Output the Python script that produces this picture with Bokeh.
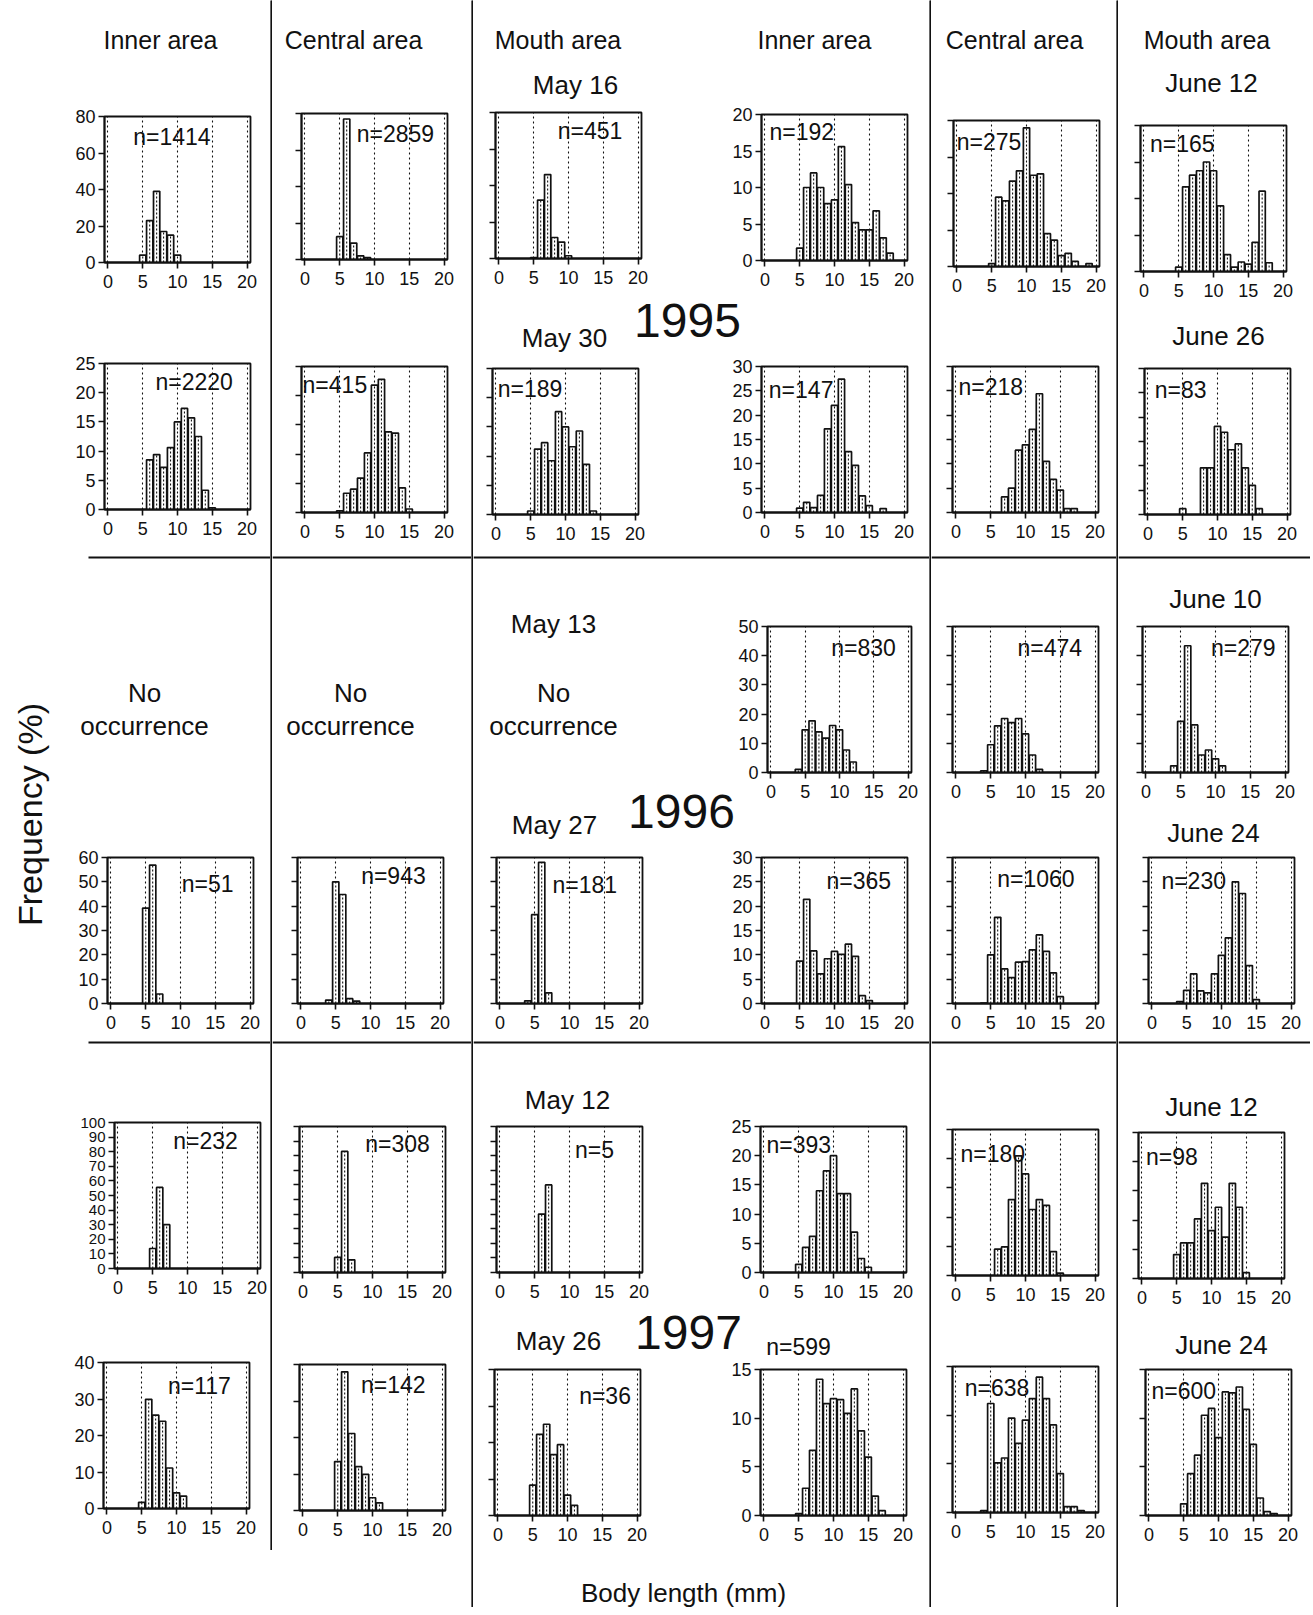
import math
from bokeh.plotting import figure
from bokeh.layouts import row, column
from bokeh.models import Range1d, Label
from bokeh.core.properties import value
from bokeh.embed import file_html
from bokeh.resources import INLINE

FONT = "Liberation Sans"
INK = "#111111"

# ---------------- data: frequency (%) per 1-mm body-length class ----------------
# each series starts at the class given by its *_start value (mm)
# 1995
f95_may16_inner_start, f95_may16_inner = 5, [4, 23, 39, 17, 15, 4]
f95_may16_central_start, f95_may16_central = 5, [12.5, 77, 9, 2, 1]
f95_may16_mouth_start, f95_may16_mouth = 5, [0.5, 32, 46, 11.5, 9, 1.5]
f95_jun12_inner_start, f95_jun12_inner = 5, [1.7, 10, 12, 10, 7.8, 8.3, 15.6, 10.4, 5.2, 4.2, 4.2, 6.8, 3.1, 1]
f95_jun12_central_start, f95_jun12_central = 5, [0.4, 9.5, 9, 11.7, 13.1, 19, 12.5, 12.7, 4.5, 3.6, 1.5, 1.8, 0.7, 0, 0.4]
f95_jun12_mouth_start, f95_jun12_mouth = 5, [0.6, 11.6, 13.2, 13.8, 15, 13.8, 9, 2.3, 0.6, 1.3, 1, 4, 11, 1.2]
f95_may30_inner_start, f95_may30_inner = 6, [8.5, 9.4, 7.2, 10.6, 15, 17.3, 15.7, 12.5, 3.3, 0.3]
f95_may30_central_start, f95_may30_central = 5, [0.3, 3.3, 4, 5.9, 10.2, 21.8, 22.8, 13.8, 13.6, 4.2, 0.6]
f95_may30_mouth_start, f95_may30_mouth = 5, [0.6, 11.2, 12.3, 9.2, 17.6, 15, 11.6, 14.3, 8.6, 0.6]
f95_jun26_inner_start, f95_jun26_inner = 5, [0.9, 2.1, 1, 3.5, 17.2, 22, 27.4, 12.5, 9.7, 3.4, 1.4, 0, 0.8]
f95_jun26_central_start, f95_jun26_central = 7, [3.2, 5, 12.8, 13.9, 17.1, 24.4, 10.5, 6.8, 4.6, 0.8, 0.8]
f95_jun26_mouth_start, f95_jun26_mouth = 5, [1.2, 0, 0, 9.6, 9.6, 18.1, 16.9, 13.3, 14.5, 9.6, 6.0, 1.2]
# 1996
f96_jun10_inner_start, f96_jun10_inner = 4, [1.1, 14.6, 17.7, 13.9, 11.8, 16.1, 14.6, 7.7, 3.6]
f96_jun10_central_start, f96_jun10_central = 4, [0.6, 9.5, 16, 18.5, 17.1, 18.5, 13.2, 6, 1.1]
f96_jun10_mouth_start, f96_jun10_mouth = 4, [2.3, 17.5, 43.4, 16.3, 6, 7.7, 4.7, 2.3]
f96_may27_inner_start, f96_may27_inner = 5, [39.2, 56.9, 3.9]
f96_may27_central_start, f96_may27_central = 4, [1.4, 50, 44.8, 2, 1]
f96_may27_mouth_start, f96_may27_mouth = 4, [1.1, 36.5, 58, 4.4]
f96_jun24_inner_start, f96_jun24_inner = 5, [8.7, 21.4, 10.8, 6.1, 9.2, 10.7, 10.1, 12.2, 9.7, 1.6, 0.6]
f96_jun24_central_start, f96_jun24_central = 4, [0.1, 10, 17.7, 7.1, 5.3, 8.5, 8.6, 11, 14.1, 10.7, 6.3, 1.4]
f96_jun24_mouth_start, f96_jun24_mouth = 4, [0.4, 2.7, 6.1, 2.6, 2.2, 6.1, 9.9, 13.5, 25, 22.6, 7.8, 0.8]
# 1997
f97_may12_inner_start, f97_may12_inner = 5, [13.7, 55.5, 30]
f97_may12_central_start, f97_may12_central = 5, [10.3, 82.9, 8.7]
f97_may12_mouth_start, f97_may12_mouth = 6, [40, 60]
f97_jun12_inner_start, f97_jun12_inner = 5, [1.4, 4.3, 6.2, 14, 17.4, 20, 13.5, 13.5, 6.9, 2.4, 0.9]
f97_jun12_central_start, f97_jun12_central = 6, [4.5, 4.9, 13, 20.5, 17.4, 11.3, 13, 12, 4.1, 0.4]
f97_jun12_mouth_start, f97_jun12_mouth = 5, [4.1, 6.1, 6.1, 10.2, 16.3, 8.2, 12.2, 7.1, 16.3, 12.2, 1.0]
f97_may26_inner_start, f97_may26_inner = 5, [1.7, 29.9, 25.6, 23.9, 11.1, 4.3, 3.4]
f97_may26_central_start, f97_may26_central = 5, [13.4, 38, 21.1, 12, 9.9, 3.5, 2.1]
f97_may26_mouth_start, f97_may26_mouth = 5, [8.3, 22.2, 25, 16.7, 19.4, 5.6, 2.8]
f97_jun24_inner_start, f97_jun24_inner = 5, [0.2, 2.8, 6.7, 14, 11.5, 12, 11.9, 10.5, 13, 8.7, 6, 2, 0.5]
f97_jun24_central_start, f97_jun24_central = 4, [0.2, 11.2, 5.1, 5.6, 9.7, 7.1, 9.5, 11.7, 13.9, 11.7, 9, 4, 0.6, 0.6, 0.2]
f97_jun24_mouth_start, f97_jun24_mouth = 5, [1.2, 4.3, 6.2, 10.3, 11, 8, 12.7, 12.6, 13.2, 10.9, 7.3, 1.8, 0.4, 0.2]

# sample sizes (inner, central, mouth)
n95_may = [1414, 2859, 451]
n95_jun = [192, 275, 165]
n95_may2 = [2220, 415, 189]
n95_jun2 = [147, 218, 83]
n96_jun = [830, 474, 279]
n96_may2 = [51, 943, 181]
n96_jun2 = [365, 1060, 230]
n97_may = [232, 308, 5]
n97_jun = [393, 180, 98]
n97_may2 = [117, 142, 36]
n97_jun2 = [599, 638, 600]

x_ticks = [0, 5, 10, 15, 20]
area_labels = ["Inner area", "Central   area", "Mouth  area"]
years = ["1995", "1996", "1997"]

FW, FH = 146, 146
HEAD, DATE, NLAB, TICK, YEAR, NOOC = 25, 26, 23, 18, 48, 26


def canvas(w, h):
    p = figure(width=w, height=h, title=None, x_range=Range1d(0, w), y_range=Range1d(h, 0),
               toolbar_location=None, tools="", output_backend="svg", min_border=0,
               x_axis_location=None, y_axis_location=None, outline_line_color=None,
               frame_align=False)
    p.xgrid.visible = False
    p.ygrid.visible = False
    return p


def put(p, x, y, s, size, angle=0.0):
    p.text(x=[x], y=[y], text=[s], text_font=value(FONT), text_font_size=value(f"{size}px"),
           text_align="center", text_baseline="middle", angle=angle, text_color=INK)


def txt(w, h, items):
    p = canvas(w, h)
    for (x, y, s, size) in items:
        put(p, x, y, s, size)
    return p


def hl(w, h, y, x0=0):
    p = canvas(w, h)
    p.segment(x0=[x0], y0=[y], x1=[w], y1=[y], line_color=INK, line_width=2)
    return p


def vline(h):
    p = canvas(2, h)
    p.background_fill_color = INK
    p.border_fill_color = INK
    p.quad(left=[0], right=[2], top=[0], bottom=[h], fill_color=INK, line_color=None)
    return p


def panel(start, vals, ymax, ystep, ylabels, n, nx, ny, w, h, left, top, ylab_size=TICK):
    right = w - left - FW
    bottom = h - top - FH
    p = figure(width=w, height=h, title=None, x_range=Range1d(-0.5, 20.5), y_range=Range1d(0, ymax),
               toolbar_location=None, tools="", output_backend="svg", frame_align=False,
               min_border_left=left, min_border_right=right, min_border_top=top, min_border_bottom=bottom)
    xs = [start + i for i, v in enumerate(vals) if v > 0]
    ys = [v for v in vals if v > 0]
    p.vbar(x=xs, top=ys, bottom=0, width=0.9, fill_color="white", line_color=INK, line_width=1.7)
    p.segment(x0=xs, y0=[0] * len(xs), x1=xs, y1=ys, line_color=INK, line_width=1.1, line_dash="2 2")
    yt = list(range(0, ymax + 1, ystep))
    p.xaxis.ticker = x_ticks
    p.yaxis.ticker = yt
    for ax in (p.xaxis[0], p.yaxis[0]):
        ax.axis_line_color = INK
        ax.axis_line_width = 1.8
        ax.major_tick_line_color = INK
        ax.major_tick_line_width = 1.6
        ax.major_tick_out = 6
        ax.major_tick_in = 0
        ax.minor_tick_line_color = None
        ax.major_label_text_font = FONT
        ax.major_label_text_color = INK
    p.xaxis.major_label_text_font_size = f"{TICK}px"
    p.yaxis.major_label_text_font_size = f"{ylab_size}px"
    p.xaxis.major_label_standoff = 6
    p.yaxis.major_label_standoff = 3
    if not ylabels:
        p.yaxis.major_label_overrides = {t: "" for t in yt}
    p.xgrid.grid_line_color = INK
    p.xgrid.grid_line_dash = "2 3"
    p.xgrid.grid_line_width = 1.1
    p.ygrid.visible = False
    p.outline_line_color = INK
    p.outline_line_width = 1.8
    if n is not None:
        p.add_layout(Label(x=nx, y=ny, text=f"n={n}", text_font=FONT, text_font_size=f"{NLAB}px",
                           text_align="center", text_baseline="middle", text_color=INK))
    return p


# ---------------- left label ----------------
left_c = canvas(60, 1607)
put(left_c, 29, 814, "Frequency (%)", 34, angle=math.pi / 2)

# ---------------- column 1 : Inner area (May) ----------------
c1 = column(
    txt(210, 100, [(100, 39, area_labels[0], HEAD)]),
    panel(f95_may16_inner_start, f95_may16_inner, 80, 20, True, n95_may[0], 9.2, 68.8, 210, 250, 44, 16),
    panel(f95_may30_inner_start, f95_may30_inner, 25, 5, True, n95_may2[0], 12.4, 21.8, 210, 198, 44, 13),
    hl(210, 18, 9, x0=28),
    txt(210, 264, [(84, 126, "No", NOOC), (84, 159, "occurrence", NOOC)]),
    panel(f96_may27_inner_start, f96_may27_inner, 60, 10, True, n96_may2[0], 13.9, 49.2, 210, 206, 47, 27),
    hl(210, 12, 6, x0=28),
    panel(f97_may12_inner_start, f97_may12_inner, 100, 10, True, n97_may[0], 12.6, 87.3, 210, 257, 54, 74, ylab_size=15),
    panel(f97_may26_inner_start, f97_may26_inner, 40, 10, True, n97_may2[0], 13.3, 33.6, 210, 245, 43, 57),
    canvas(210, 57),
)

# ---------------- column 2 : Central area (May) ----------------
c2 = column(
    txt(199, 100, [(88, 39, area_labels[1], HEAD)]),
    panel(f95_may16_central_start, f95_may16_central, 80, 20, False, n95_may[1], 13, 68.5, 199, 250, 29, 13),
    panel(f95_may30_central_start, f95_may30_central, 25, 5, False, n95_may2[1], 4.3, 21.8, 199, 198, 29, 16),
    hl(199, 18, 9),
    txt(199, 264, [(78, 126, "No", NOOC), (78, 159, "occurrence", NOOC)]),
    panel(f96_may27_central_start, f96_may27_central, 60, 10, False, n96_may2[1], 13.3, 52.2, 199, 206, 25, 27),
    hl(199, 12, 6),
    panel(f97_may12_central_start, f97_may12_central, 100, 10, False, n97_may[1], 13.6, 88, 199, 257, 27, 78),
    panel(f97_may26_central_start, f97_may26_central, 40, 10, False, n97_may2[1], 13, 34.4, 199, 245, 27, 59),
    canvas(199, 57),
)

# ---------------- columns 3+4 : Mouth area (May) and Inner area (June) ----------------
c34 = column(
    txt(456, 99, [(88, 39, area_labels[2], HEAD), (341, 39, area_labels[0], HEAD), (102, 84, "May 16", DATE)]),
    row(panel(f95_may16_mouth_start, f95_may16_mouth, 80, 20, False, n95_may[2], 13.1, 70, 227, 194, 22, 13),
        panel(f95_jun12_inner_start, f95_jun12_inner, 20, 5, True, n95_jun[0], 5.3, 17.6, 229, 194, 61, 15)),
    txt(456, 59, [(91, 44, "May 30", DATE), (214, 27, years[0], YEAR)]),
    row(panel(f95_may30_mouth_start, f95_may30_mouth, 25, 5, False, n95_may2[2], 4.9, 21.5, 227, 196, 19, 16),
        panel(f95_jun26_inner_start, f95_jun26_inner, 30, 5, True, n95_jun2[0], 5.2, 25.2, 229, 196, 61, 14)),
    hl(456, 18, 9),
    row(txt(262, 279, [(80, 57, "May 13", DATE), (80, 126, "No", NOOC), (80, 159, "occurrence", NOOC),
                       (81, 258, "May 27", DATE), (208, 245, years[1], YEAR)]),
        panel(f96_jun10_inner_start, f96_jun10_inner, 50, 10, True, n96_jun[0], 13.5, 42.6, 194, 279, 30, 60)),
    row(panel(f96_may27_mouth_start, f96_may27_mouth, 60, 10, False, n96_may2[2], 12.2, 48.6, 227, 191, 23, 12),
        panel(f96_jun24_inner_start, f96_jun24_inner, 30, 5, True, n96_jun2[0], 13.5, 25.2, 229, 191, 61, 12)),
    hl(456, 12, 6),
    txt(456, 68, [(94, 51, "May 12", DATE)]),
    row(panel(f97_may12_mouth_start, f97_may12_mouth, 100, 10, False, n97_may[2], 13.6, 84, 227, 189, 23, 10),
        panel(f97_jun12_inner_start, f97_jun12_inner, 25, 5, True, n97_jun[0], 5, 21.75, 229, 189, 60, 10)),
    txt(456, 54, [(85, 35, "May 26", DATE), (215, 27, years[2], YEAR), (325, 41, f"n={n97_jun2[0]}", NLAB)]),
    row(panel(f97_may26_mouth_start, f97_may26_mouth, 40, 10, False, n97_may2[2], 15.4, 32.8, 227, 191, 21, 10),
        panel(f97_jun24_inner_start, f97_jun24_inner, 15, 5, True, None, 0, 0, 229, 191, 60, 10)),
    txt(456, 57, [(210, 42, "Body length (mm)", 26)]),
)

# ---------------- column 5 : Central area (June) ----------------
c5 = column(
    txt(185, 104, [(90, 39, area_labels[1], HEAD)]),
    panel(f95_jun12_central_start, f95_jun12_central, 20, 5, False, n95_jun[1], 4.6, 17.1, 185, 244, 22, 16),
    panel(f95_jun26_central_start, f95_jun26_central, 30, 5, False, n95_jun2[1], 5, 25.8, 185, 200, 21, 18),
    hl(185, 18, 9),
    panel(f96_jun10_central_start, f96_jun10_central, 50, 10, False, n96_jun[1], 13.5, 42.6, 185, 264, 21, 60),
    panel(f96_jun24_central_start, f96_jun24_central, 30, 5, False, n96_jun2[1], 11.5, 25.5, 185, 206, 21, 27),
    hl(185, 12, 6),
    panel(f97_jun12_central_start, f97_jun12_central, 25, 5, False, n97_jun[1], 5.3, 20.75, 185, 260, 21, 81),
    panel(f97_jun24_central_start, f97_jun24_central, 15, 5, False, n97_jun2[1], 5.9, 12.8, 185, 252, 21, 58),
    canvas(185, 47),
)

# ---------------- column 6 : Mouth area (June) ----------------
W6 = 192
c6 = column(
    txt(W6, 100, [(92, 39, area_labels[2], HEAD), (93, 82, "June 12", DATE)]),
    panel(f95_jun12_mouth_start, f95_jun12_mouth, 20, 5, False, n95_jun[2], 5.5, 17.5, W6, 204, 22, 25),
    txt(W6, 48, [(100, 31, "June 26", DATE)]),
    panel(f95_jun26_mouth_start, f95_jun26_mouth, 30, 5, False, n95_jun2[2], 4.7, 25.6, W6, 196, 26, 16),
    hl(W6, 18, 9),
    txt(W6, 48, [(97, 32, "June 10", DATE)]),
    panel(f96_jun10_mouth_start, f96_jun10_mouth, 50, 10, False, n96_jun[2], 14, 42.6, W6, 191, 24, 12),
    txt(W6, 42, [(95, 27, "June 24", DATE)]),
    panel(f96_jun24_mouth_start, f96_jun24_mouth, 30, 5, False, n96_jun2[2], 6, 25.2, W6, 189, 30, 10),
    hl(W6, 12, 6),
    txt(W6, 74, [(93, 58, "June 12", DATE)]),
    panel(f97_jun12_mouth_start, f97_jun12_mouth, 25, 5, False, n97_jun[2], 4.3, 20.75, W6, 189, 20, 10),
    txt(W6, 48, [(103, 33, "June 24", DATE)]),
    panel(f97_jun24_mouth_start, f97_jun24_mouth, 15, 5, False, n97_jun2[2], 5, 12.75, W6, 248, 27, 10),
)

page = row(left_c, c1, vline(1550), c2, vline(1607), c34, vline(1607), c5, vline(1607), c6)

open("out.html", "w").write(file_html(page, INLINE, title="Body length frequency distributions"))
